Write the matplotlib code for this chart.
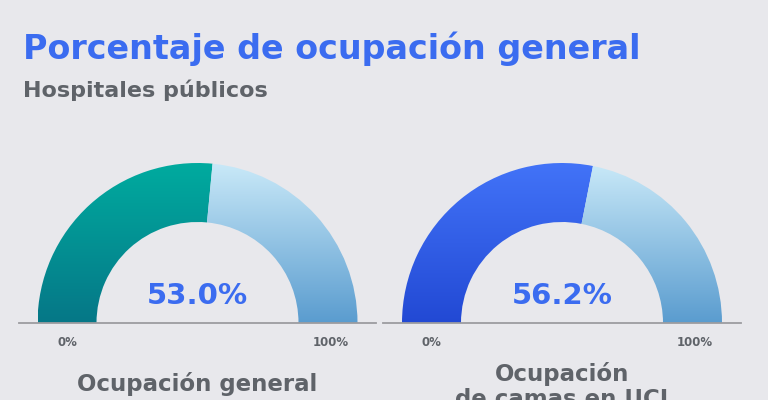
import numpy as np
import matplotlib.pyplot as plt
from matplotlib.patches import Wedge
from matplotlib.colors import LinearSegmentedColormap

plt.rcParams['font.family'] = ['DejaVu Sans']

title = "Porcentaje de ocupación general"
subtitle = "Hospitales públicos"
gauge_labels = ["Ocupación general", "Ocupación\nde camas en UCI"]
gauge_values = [53.0, 56.2]
scale_labels = ["0%", "100%"]

BG = "#e8e8ec"
BLUE_TEXT = "#3b6cf0"
GRAY_TEXT = "#5f6369"
fill_colors = [("#00ab9f", "#067787"), ("#4273f8", "#2249d4")]
rest_colors = ("#c9e9f8", "#5a9ccf")

W, H = 768, 400
fig = plt.figure(figsize=(W / 100, H / 100), dpi=100, facecolor=BG)
ax = fig.add_axes([0, 0, 1, 1])
ax.set_xlim(0, W)
ax.set_ylim(0, H)
ax.set_facecolor(BG)
ax.axis('off')


def y(px):
    return H - px


def gradient_wedge(cx, cy, r_out, r_in, t1, t2, top, bottom):
    wedge = Wedge((cx, cy), r_out, t1, t2, width=r_out - r_in,
                  facecolor='none', edgecolor='none')
    ax.add_patch(wedge)
    cmap = LinearSegmentedColormap.from_list('g', [bottom, top])
    grad = np.linspace(0, 1, 256).reshape(-1, 1)
    im = ax.imshow(grad, cmap=cmap, origin='lower', aspect='auto',
                   extent=(cx - r_out, cx + r_out, cy, cy + r_out),
                   interpolation='bilinear', zorder=2)
    im.set_clip_path(wedge)


centers = [197.5, 562]
base_y = y(323)
r_out, r_in = 160, 101
line_spans = [(19, 376), (383, 741)]

ax.text(23, y(49), title, color=BLUE_TEXT, fontsize=24, fontweight='bold',
        ha='left', va='center')
ax.text(23, y(90), subtitle, color=GRAY_TEXT, fontsize=16, fontweight='bold',
        ha='left', va='center')

for i, (cx, val) in enumerate(zip(centers, gauge_values)):
    split = 180 - 180 * val / 100
    gradient_wedge(cx, base_y, r_out, r_in, split, 180, *fill_colors[i])
    gradient_wedge(cx, base_y, r_out, r_in, 0, split, *rest_colors)
    ax.plot(line_spans[i], [base_y, base_y], color="#9c9ca0", lw=1.3, zorder=3)
    ax.text(cx, y(296), f"{val:.1f}%", color=BLUE_TEXT, fontsize=21,
            fontweight='bold', ha='center', va='center', zorder=4)
    ax.text(cx - 130.5, y(342), scale_labels[0], color=GRAY_TEXT, fontsize=8.5,
            fontweight='bold', ha='center', va='center')
    ax.text(cx + 133, y(342), scale_labels[1], color=GRAY_TEXT, fontsize=8.5,
            fontweight='bold', ha='center', va='center')

ax.text(centers[0], y(384), gauge_labels[0], color=GRAY_TEXT, fontsize=16.5,
        fontweight='bold', ha='center', va='center')
ax.text(centers[1], y(362), gauge_labels[1], color=GRAY_TEXT, fontsize=16.5,
        fontweight='bold', ha='center', va='top', linespacing=1.1)

fig.savefig("out.png", dpi=100, facecolor=BG)
